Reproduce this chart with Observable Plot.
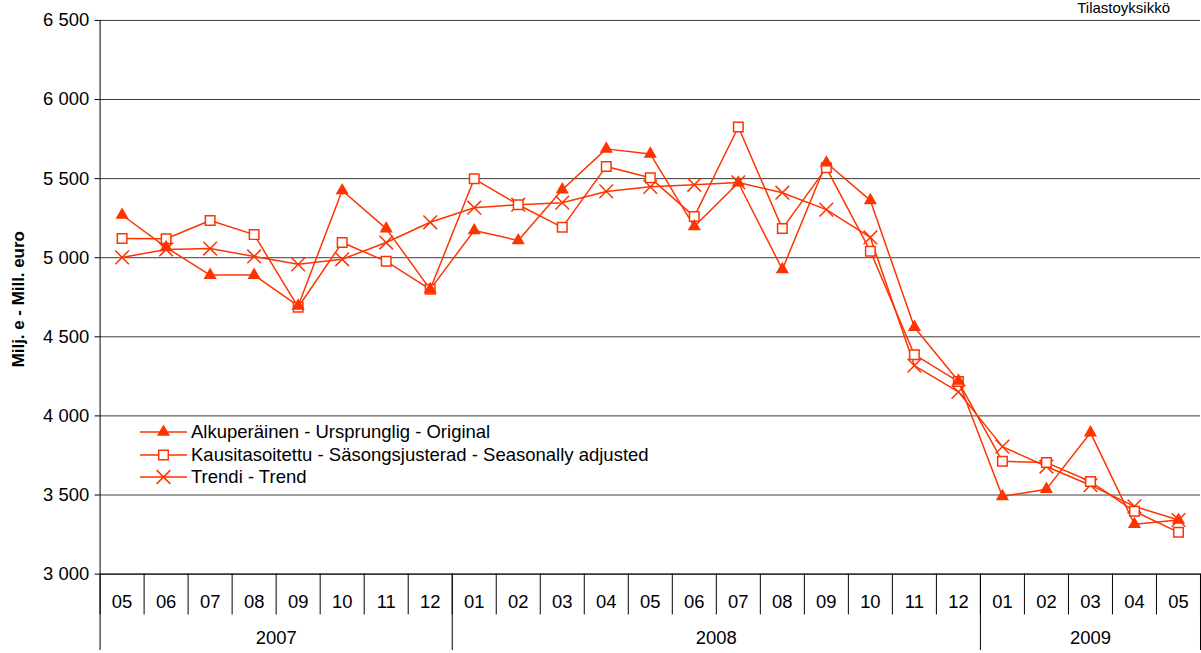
<!DOCTYPE html>
<html><head><meta charset="utf-8">
<script src="https://cdn.jsdelivr.net/npm/d3@7"></script>
<script src="https://cdn.jsdelivr.net/npm/@observablehq/plot@0.6"></script>
<style>
html,body{margin:0;padding:0;background:#fff;overflow:hidden;width:1201px;height:653px;}
#wrap{position:relative;width:1201px;height:653px;overflow:hidden;font-family:"Liberation Sans",Arial,sans-serif;}
#chart{position:absolute;left:0;top:0;}
#unit{position:absolute;right:31px;top:0px;font-size:15px;line-height:16px;color:#000;white-space:nowrap;}
#legend{position:absolute;left:140px;top:421px;font-size:18.5px;color:#000;}
.row{display:flex;align-items:center;height:22.5px;}
.row svg{display:block;margin-right:3px;}
</style></head>
<body><div id="wrap"><div id="chart"></div><div id="unit">Tilastoyksikkö</div><div id="legend"></div></div>
<script>
// ---- data ----
const months = ["05","06","07","08","09","10","11","12",
  "01","02","03","04","05","06","07","08","09","10","11","12",
  "01","02","03","04","05"];
const years = ["2007","2008","2009"];
const yearMonthCounts = [8, 12, 5];
const original = [5270,5065,4890,4890,4695,5425,5184,4800,
  5172,5109,5430,5688,5656,5197,5474,4926,5600,5362,4561,4221,
  3491,3537,3894,3315,3342];
const seasonal = [5121,5120,5235,5146,4687,5096,4977,4800,
  5499,5335,5192,5577,5505,5260,5826,5184,5568,5041,4387,4217,
  3713,3705,3585,3397,3264];
const trend = [5002,5052,5058,5008,4958,4990,5096,5224,
  5316,5335,5348,5419,5448,5461,5476,5411,5304,5128,4318,4152,
  3806,3680,3562,3428,3342];
const seriesNames = ["Alkuperäinen - Ursprunglig - Original",
  "Kausitasoitettu - Säsongsjusterad - Seasonally adjusted",
  "Trendi - Trend"];
const yTicks = [3000,3500,4000,4500,5000,5500,6000,6500];
const yLabel = "Milj. e - Mill. euro";

// ---- build ----
const color = "#ff3300";
const FS = 18.5;
const seriesValues = [original, seasonal, trend];
const rows = [];
seriesValues.forEach((vals, s) => vals.forEach((v, i) => rows.push({s, name: seriesNames[s], i, v})));
const monthRows = months.map((m, i) => ({i, m}));
const monthBounds = d3.range(-0.5, months.length, 1);
let acc = 0;
const yearRows = years.map((y, k) => { const start = acc; acc += yearMonthCounts[k]; return {y, c: (start + acc - 1) / 2}; });
const yearBounds = [-0.5]; acc = -0.5; yearMonthCounts.forEach(n => { acc += n; yearBounds.push(acc); });
const fmt = d => d3.format(",")(d).replace(/,/g, " ");
const dotStyle = [
  {symbol: "triangle", r: 4.9, fill: color, stroke: "none"},
  {symbol: "square", r: 5.4, fill: "white", stroke: color, strokeWidth: 1.5},
  {symbol: "times", r: 6.3, fill: "none", stroke: color, strokeWidth: 1.5}
];
const drawOrder = [2, 1, 0];

const chart = Plot.plot({
  width: 1206, height: 653,
  marginLeft: 100, marginRight: 1, marginTop: 20, marginBottom: 77,
  style: {fontFamily: "Liberation Sans, Arial, sans-serif", fontSize: FS + "px", color: "#000", background: "white"},
  x: {type: "linear", domain: [-0.5, months.length - 0.5], axis: null},
  y: {domain: [3000, 6500], axis: null},
  marks: [
    Plot.gridY(yTicks, {stroke: "#3a3a3a", strokeOpacity: 1}),
    Plot.axisY(yTicks, {tickFormat: fmt, tickSize: 5, tickPadding: 6, fontSize: FS, label: null, stroke: "#000"}),
    Plot.ruleY([3000], {stroke: "#000"}),
    Plot.ruleX([-0.5], {stroke: "#000"}),
    Plot.ruleX(monthBounds, {x: d => d, y1: 3000, y2: 3000, insetBottom: -41, stroke: "#000"}),
    Plot.ruleX(yearBounds, {x: d => d, y1: 3000, y2: 3000, insetBottom: -77, stroke: "#000"}),
    Plot.text(monthRows, {x: "i", text: "m", frameAnchor: "bottom", lineAnchor: "middle", dy: 28, fontSize: FS, fill: "#000"}),
    Plot.text(yearRows, {x: "c", text: "y", frameAnchor: "bottom", lineAnchor: "middle", dy: 64, fontSize: FS, fill: "#000"}),
    Plot.text([yLabel], {text: d => d, frameAnchor: "left", textAnchor: "middle", lineAnchor: "middle", dx: -82, dy: 2, rotate: -90, fontWeight: "bold", fontSize: 17, fill: "#000"}),
    ...drawOrder.map(s => Plot.line(rows.filter(d => d.s === s), {x: "i", y: "v", stroke: color, strokeWidth: 1.5})),
    ...drawOrder.map(s => Plot.dot(rows.filter(d => d.s === s), {x: "i", y: "v", ...dotStyle[s]}))
  ]
});
document.getElementById("chart").appendChild(chart);

// ---- legend ----
const legend = d3.select("#legend");
const symMap = {triangle: d3.symbolTriangle, square: d3.symbolSquare, times: d3.symbolTimes};
seriesNames.forEach((name, s) => {
  const row = legend.append("div").attr("class", "row");
  const svg = row.append("svg").attr("width", 48).attr("height", 22);
  svg.append("line").attr("x1", 0).attr("x2", 47).attr("y1", 11).attr("y2", 11)
    .attr("stroke", color).attr("stroke-width", 1.5);
  const st = dotStyle[s];
  svg.append("path").attr("transform", "translate(23.5,11)")
    .attr("d", d3.symbol(symMap[st.symbol], Math.PI * st.r * st.r)())
    .attr("fill", st.fill).attr("stroke", st.stroke).attr("stroke-width", st.strokeWidth || 0);
  row.append("span").text(name);
});
</script>
</body></html>
